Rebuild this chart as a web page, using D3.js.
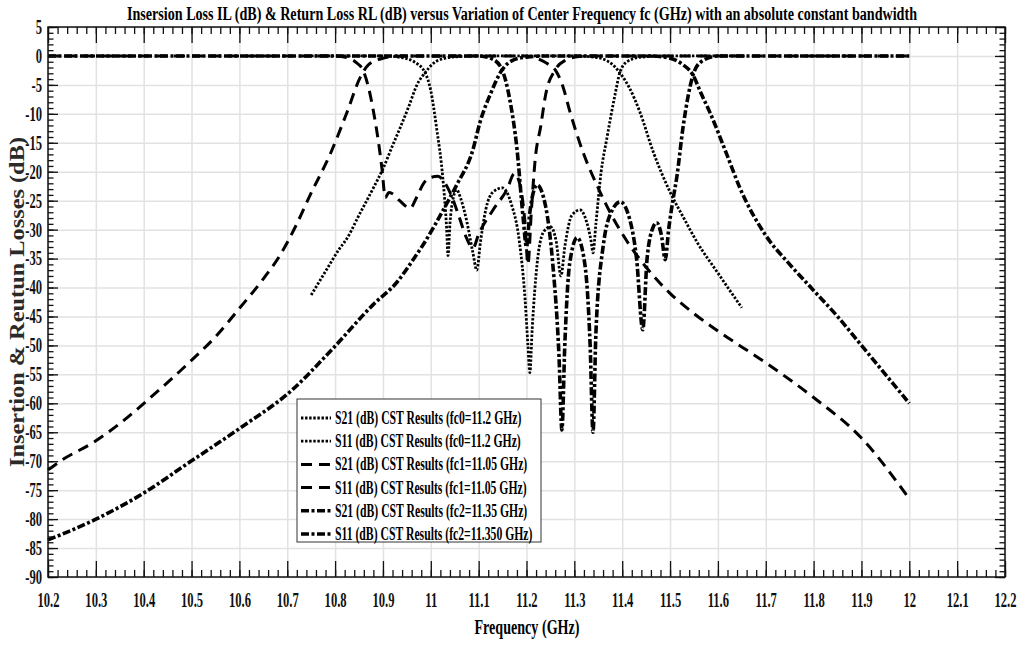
<!DOCTYPE html>
<html>
<head>
<meta charset="utf-8">
<script src="https://cdn.jsdelivr.net/npm/d3@7"></script>
<style>
  body { margin: 0; background: #fff; }
  svg { display: block; font-family: "Liberation Serif", "Times New Roman", serif; font-weight: bold; }
</style>
</head>
<body>
<svg id="chart" width="1026" height="645"></svg>
<script>
// tick labels
const xTickValues = [10.2, 10.3, 10.4, 10.5, 10.6, 10.7, 10.8, 10.9, 11, 11.1, 11.2, 11.3, 11.4, 11.5, 11.6, 11.7, 11.8, 11.9, 12, 12.1, 12.2];
const yTickValues = [5, 0, -5, -10, -15, -20, -25, -30, -35, -40, -45, -50, -55, -60, -65, -70, -75, -80, -85, -90];

// [frequency GHz, dB]
const s21fc0 = [[10.75,-41.3],[10.78,-37.2],[10.81,-33.2],[10.825,-31.5],[10.85,-27.5],[10.88,-22.8],[10.9,-19.5],[10.92,-15.5],[10.936,-12.4],[10.955,-8.5],[10.971,-5],[10.988,-2.9],[11.005,-1.3],[11.03,-0.4],[11.06,-0.1],[11.1,0],[11.3,0],[11.34,-0.2],[11.365,-0.7],[11.38,-1.5],[11.395,-2.9],[11.415,-5.5],[11.437,-9.7],[11.465,-16.6],[11.5,-23.5],[11.53,-28.2],[11.556,-32.1],[11.6,-37.5],[11.65,-43.5]];
const s11fc0 = [[10.75,0],[10.9,0],[10.94,-0.3],[10.965,-1],[10.988,-2.9],[11.0,-6],[11.012,-12.4],[11.025,-21],[11.033,-29.7],[11.036,-34.5],[11.04,-29],[11.047,-24.5],[11.054,-23.1],[11.062,-24.5],[11.075,-28.5],[11.088,-34],[11.096,-37],[11.104,-32],[11.115,-26.5],[11.13,-23.5],[11.15,-22.8],[11.168,-25.5],[11.185,-32],[11.197,-42],[11.203,-50],[11.207,-54.7],[11.212,-47],[11.222,-36],[11.235,-30.5],[11.25,-29.5],[11.262,-32],[11.272,-38],[11.28,-33],[11.295,-27.5],[11.312,-26.6],[11.325,-28.5],[11.335,-32],[11.339,-34],[11.345,-29],[11.356,-20],[11.368,-14.2],[11.385,-6.7],[11.395,-2.9],[11.41,-1],[11.44,-0.2],[11.5,0],[11.65,0]];
const s21fc1 = [[10.2,-71.5],[10.229,-69.8],[10.294,-66.8],[10.35,-63.5],[10.413,-59.1],[10.497,-52.8],[10.55,-48.5],[10.601,-43.5],[10.65,-38.5],[10.685,-34.4],[10.72,-29],[10.748,-24],[10.789,-17.1],[10.825,-9.7],[10.852,-3.8],[10.87,-1.5],[10.9,-0.4],[10.94,0],[11.2,0],[11.225,-0.5],[11.245,-1.4],[11.26,-2.4],[11.275,-5],[11.291,-9.7],[11.318,-16.6],[11.347,-22.3],[11.381,-28],[11.41,-32],[11.45,-36.5],[11.5,-41],[11.55,-44.5],[11.6,-47.5],[11.7,-53],[11.8,-59],[11.9,-66],[12.0,-76.5]];
const s11fc1 = [[10.2,0],[10.8,0],[10.83,-0.4],[10.845,-1.2],[10.858,-2.4],[10.87,-5.5],[10.88,-9.5],[10.89,-14.5],[10.898,-19.5],[10.905,-24.5],[10.912,-23.6],[10.92,-23.8],[10.935,-25],[10.957,-26.3],[10.97,-24.5],[10.985,-22],[11.0,-21],[11.015,-20.8],[11.03,-22],[11.045,-24.5],[11.06,-28],[11.075,-31.5],[11.088,-33.2],[11.1,-30.8],[11.13,-26.6],[11.159,-23.1],[11.175,-20.3],[11.187,-22.5],[11.197,-29],[11.203,-36],[11.21,-27],[11.218,-18],[11.23,-12],[11.24,-6.7],[11.26,-2.4],[11.28,-0.8],[11.31,-0.1],[11.35,0],[12.0,0]];
const s21fc2 = [[10.2,-83.6],[10.298,-80.1],[10.4,-75.5],[10.497,-70.1],[10.601,-64.3],[10.706,-58],[10.789,-51.1],[10.879,-43],[10.93,-39],[10.963,-35.2],[10.984,-32.6],[11.034,-25.4],[11.054,-22.3],[11.088,-16.2],[11.103,-11.4],[11.125,-6.5],[11.149,-2.4],[11.17,-0.8],[11.2,-0.2],[11.24,0],[11.46,0],[11.5,-0.4],[11.525,-1.4],[11.548,-3.3],[11.565,-6.5],[11.583,-9.7],[11.619,-17.1],[11.646,-22.8],[11.7,-31],[11.75,-36],[11.8,-40.5],[11.85,-45],[11.9,-50],[11.95,-55],[12.0,-60]];
const s11fc2 = [[10.2,0],[11.1,0],[11.13,-0.6],[11.149,-2.4],[11.165,-7.5],[11.18,-16],[11.193,-28],[11.2,-33],[11.207,-27],[11.222,-22.3],[11.24,-26],[11.255,-36],[11.268,-52],[11.274,-64.6],[11.28,-50],[11.29,-36],[11.306,-31.4],[11.322,-36],[11.333,-50],[11.339,-65],[11.345,-48],[11.36,-33],[11.38,-26.5],[11.396,-25.2],[11.415,-28],[11.43,-35],[11.443,-47.3],[11.452,-35],[11.465,-29.5],[11.472,-28.8],[11.482,-31],[11.49,-35.2],[11.497,-30],[11.506,-24.9],[11.514,-21],[11.527,-12.4],[11.548,-3.3],[11.565,-1],[11.6,0],[12.0,0]];

const legendLabels = [
  "S21 (dB) CST Results (fc0=11.2 GHz)",
  "S11 (dB) CST Results (fc0=11.2 GHz)",
  "S21 (dB) CST Results (fc1=11.05 GHz)",
  "S11 (dB) CST Results (fc1=11.05 GHz)",
  "S21 (dB) CST Results (fc2=11.35 GHz)",
  "S11 (dB) CST Results (fc2=11.350 GHz)"
];

const series = [s21fc0, s11fc0, s21fc1, s11fc1, s21fc2, s11fc2];
// line style per curve: dotted, dashed, dash-dot
const styles = [
  { dash: "2.4,1.7", w: 2.8 },
  { dash: "2.4,1.7", w: 2.8 },
  { dash: "11,7", w: 3 },
  { dash: "11,7", w: 3 },
  { dash: "8,2.5,3,2.5", w: 3.6 },
  { dash: "8,2.5,3,2.5", w: 3.6 }
];

const width = 1026;
const height = 645;
const mLeft = 48, mRight = 1005, mTop = 27, mBottom = 577;
const sx = 0.63; // labels are horizontally condensed

const svg = d3.select("#chart");

const x = d3.scaleLinear().domain([10.2, 12.2]).range([mLeft, mRight]);
const y = d3.scaleLinear().domain([-90, 5]).range([mBottom, mTop]);

// grid
svg.append("g")
  .attr("transform", `translate(0,${mBottom})`)
  .call(d3.axisBottom(x).tickValues(xTickValues).tickSize(-(mBottom - mTop)).tickFormat(""))
  .call(g => g.select(".domain").remove())
  .call(g => g.selectAll("line").attr("stroke", "#e2e2e2").attr("stroke-width", 1.5));
svg.append("g")
  .attr("transform", `translate(${mLeft},0)`)
  .call(d3.axisLeft(y).tickValues(yTickValues).tickSize(-(mRight - mLeft)).tickFormat(""))
  .call(g => g.select(".domain").remove())
  .call(g => g.selectAll("line").attr("stroke", "#e2e2e2").attr("stroke-width", 1.5));

// curves
const line = d3.line()
  .x(d => x(d[0]))
  .y(d => y(d[1]))
  .curve(d3.curveMonotoneX);

series.forEach((s, i) => {
  svg.append("path")
    .attr("d", line(s))
    .attr("fill", "none")
    .attr("stroke", "#000")
    .attr("stroke-width", styles[i].w)
    .attr("stroke-dasharray", styles[i].dash);
});

// ticks: major + minor on all four sides, pointing inward
const xMinor = d3.range(0, 101).map(i => 10.2 + i * 0.02);
const yMinor = d3.range(-90, 6, 1);

function tickAxis(axis, tr) {
  svg.append("g")
    .attr("transform", tr)
    .call(axis)
    .call(g => g.select(".domain").remove())
    .call(g => g.selectAll("line").attr("stroke", "#111").attr("stroke-width", 1.3));
}
tickAxis(d3.axisBottom(x).tickValues(xMinor).tickSize(-7).tickFormat(""), `translate(0,${mBottom})`);
tickAxis(d3.axisBottom(x).tickValues(xTickValues).tickSize(-16).tickFormat(""), `translate(0,${mBottom})`);
tickAxis(d3.axisTop(x).tickValues(xMinor).tickSize(-7).tickFormat(""), `translate(0,${mTop})`);
tickAxis(d3.axisTop(x).tickValues(xTickValues).tickSize(-16).tickFormat(""), `translate(0,${mTop})`);
tickAxis(d3.axisLeft(y).tickValues(yMinor).tickSize(-5.5).tickFormat(""), `translate(${mLeft},0)`);
tickAxis(d3.axisLeft(y).tickValues(yTickValues).tickSize(-10).tickFormat(""), `translate(${mLeft},0)`);
tickAxis(d3.axisRight(y).tickValues(yMinor).tickSize(-5.5).tickFormat(""), `translate(${mRight},0)`);
tickAxis(d3.axisRight(y).tickValues(yTickValues).tickSize(-10).tickFormat(""), `translate(${mRight},0)`);

// frame
svg.append("rect")
  .attr("x", mLeft).attr("y", mTop)
  .attr("width", mRight - mLeft).attr("height", mBottom - mTop)
  .attr("fill", "none").attr("stroke", "#111").attr("stroke-width", 1.5);

// tick labels
svg.append("g")
  .attr("transform", `translate(0,${mBottom})`)
  .call(d3.axisBottom(x).tickValues(xTickValues).tickSize(0).tickPadding(16).tickFormat(d => String(+d.toFixed(1))))
  .attr("font-family", null).attr("font-size", 20)
  .call(g => g.select(".domain").remove())
  .call(g => g.selectAll("text")
    .attr("fill", "#111")
    .attr("transform", `scale(${sx},1)`));
svg.append("g")
  .attr("transform", `translate(${mLeft},0)`)
  .call(d3.axisLeft(y).tickValues(yTickValues).tickSize(0).tickPadding(6 / sx).tickFormat(d => String(d)))
  .attr("font-family", null).attr("font-size", 20)
  .call(g => g.select(".domain").remove())
  .call(g => g.selectAll("text")
    .attr("fill", "#111")
    .attr("transform", `scale(${sx},1)`));

// title and axis titles
svg.append("text")
  .attr("x", 522).attr("y", 20)
  .attr("text-anchor", "middle")
  .attr("font-size", 18.5)
  .attr("textLength", 790).attr("lengthAdjust", "spacingAndGlyphs")
  .text("Insersion Loss IL (dB) & Return Loss RL (dB) versus Variation of Center Frequency fc (GHz) with an absolute constant bandwidth");

svg.append("text")
  .attr("x", 527).attr("y", 634)
  .attr("text-anchor", "middle")
  .attr("font-size", 20)
  .attr("textLength", 105).attr("lengthAdjust", "spacingAndGlyphs")
  .text("Frequency (GHz)");

svg.append("text")
  .attr("transform", "translate(24,302) rotate(-90)")
  .attr("text-anchor", "middle")
  .attr("font-size", 22)
  .attr("fill", "#2a2a2a")
  .attr("textLength", 330).attr("lengthAdjust", "spacingAndGlyphs")
  .text("Insertion & Reutun Losses (dB)");

// legend
const legend = svg.append("g");
legend.append("rect")
  .attr("x", 297).attr("y", 399)
  .attr("width", 244).attr("height", 143)
  .attr("fill", "#fff").attr("stroke", "#333").attr("stroke-width", 1);

legendLabels.forEach((label, i) => {
  const ly = 418 + i * 23.2;
  legend.append("line")
    .attr("x1", 301).attr("x2", 331)
    .attr("y1", ly).attr("y2", ly)
    .attr("stroke", "#000")
    .attr("stroke-width", styles[i].w)
    .attr("stroke-dasharray", styles[i].dash);
  legend.append("text")
    .attr("transform", `translate(335,${ly + 6}) scale(0.65,1)`)
    .attr("font-size", 18)
    .text(label);
});
</script>
</body>
</html>
